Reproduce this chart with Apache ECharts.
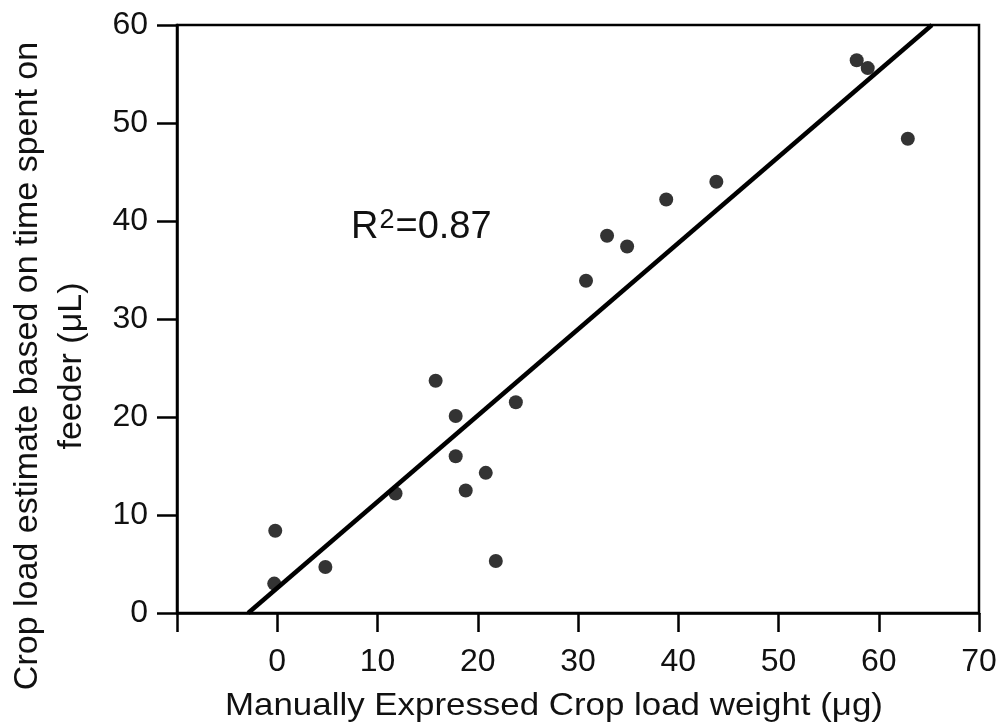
<!DOCTYPE html>
<html>
<head>
<meta charset="utf-8">
<script src="https://cdn.jsdelivr.net/npm/echarts@6/dist/echarts.min.js"></script>
<style>
  html, body { margin: 0; padding: 0; background: #fff; }
  #chart { width: 1005px; height: 728px; }
</style>
</head>
<body>
<div id="chart"></div>
<script>
// Manually expressed crop load weight (µg) vs. estimate from feeder time (µL)
const cropWeight = [-0.2, -0.3, 4.8, 11.8, 17.8, 17.8, 18.8, 20.8, 21.8, 23.8, 15.8,
                    30.8, 32.9, 34.9, 38.8, 43.8, 57.8, 58.9, 62.9];
const cropEstimate = [8.4, 3.0, 4.7, 12.2, 20.1, 16.0, 12.5, 14.3, 5.3, 21.5, 23.7,
                      33.9, 38.5, 37.4, 42.2, 44.0, 56.4, 55.6, 48.4];
// End points of the fitted regression line
const fitX = [-2.9, 65.3];
const fitY = [0, 60];
const xTicks = { min: -10, max: 70, step: 10 };
const yTicks = { min: 0, max: 60, step: 10 };
const xTitle = 'Manually Expressed Crop load weight (μg)';
const yTitle = ['Crop load estimate based on time spent on', 'feeder (μL)'];
const rSquared = '0.87';

const points = cropWeight.map((x, i) => [x, cropEstimate[i]]);
const fitLine = fitX.map((x, i) => [x, fitY[i]]);

const FONT = '"Liberation Sans", Arial, sans-serif';
const chart = echarts.init(document.getElementById('chart'), null, { renderer: 'canvas' });

chart.setOption({
  backgroundColor: '#fff',
  animation: false,
  grid: {
    left: 177, right: 26, top: 25, bottom: 115,
    show: true, borderColor: '#000', borderWidth: 2.5, backgroundColor: 'transparent'
  },
  xAxis: {
    type: 'value',
    min: xTicks.min, max: xTicks.max, interval: xTicks.step,
    axisLine: { show: true, onZero: false, lineStyle: { color: '#000', width: 2.5 } },
    axisTick: { show: true, inside: false, length: 19, lineStyle: { color: '#000', width: 2.5 } },
    axisLabel: {
      margin: 33, color: '#111', fontFamily: FONT, fontSize: 32,
      formatter: v => (v < 0 ? '' : String(v))
    },
    splitLine: { show: false }
  },
  yAxis: {
    type: 'value',
    min: yTicks.min, max: yTicks.max, interval: yTicks.step,
    axisLine: { show: true, onZero: false, lineStyle: { color: '#000', width: 2.5 } },
    axisTick: { show: true, inside: false, length: 20, lineStyle: { color: '#000', width: 2.5 } },
    axisLabel: { margin: 29, color: '#111', fontFamily: FONT, fontSize: 32 },
    splitLine: { show: false }
  },
  graphic: [
    {
      type: 'text', x: 225, y: 706, scaleX: 1.09,
      style: { text: xTitle, fill: '#111', font: '32px ' + FONT, verticalAlign: 'middle' }
    },
    {
      type: 'text', x: 50, y: 366, rotation: Math.PI / 2,
      style: {
        text: yTitle.join('\n'), fill: '#111', font: '34px ' + FONT,
        align: 'center', verticalAlign: 'middle', lineHeight: 44
      }
    },
    {
      type: 'text', x: 351, y: 227,
      style: {
        text: '{a|R}{s|2}{a|=' + rSquared + '}',
        verticalAlign: 'middle',
        rich: {
          a: { fontFamily: FONT, fontSize: 38, fill: '#111', verticalAlign: 'bottom' },
          s: { fontFamily: FONT, fontSize: 27, fill: '#111', verticalAlign: 'top', padding: [0, 1, 12, 1] }
        }
      }
    }
  ],
  series: [
    {
      type: 'line',
      data: fitLine,
      symbol: 'none',
      lineStyle: { color: '#000', width: 4.5 },
      z: 2
    },
    {
      type: 'scatter',
      data: points,
      symbol: 'circle',
      symbolSize: 14,
      itemStyle: { color: '#000' },
      z: 3
    }
  ]
});
</script>
</body>
</html>
